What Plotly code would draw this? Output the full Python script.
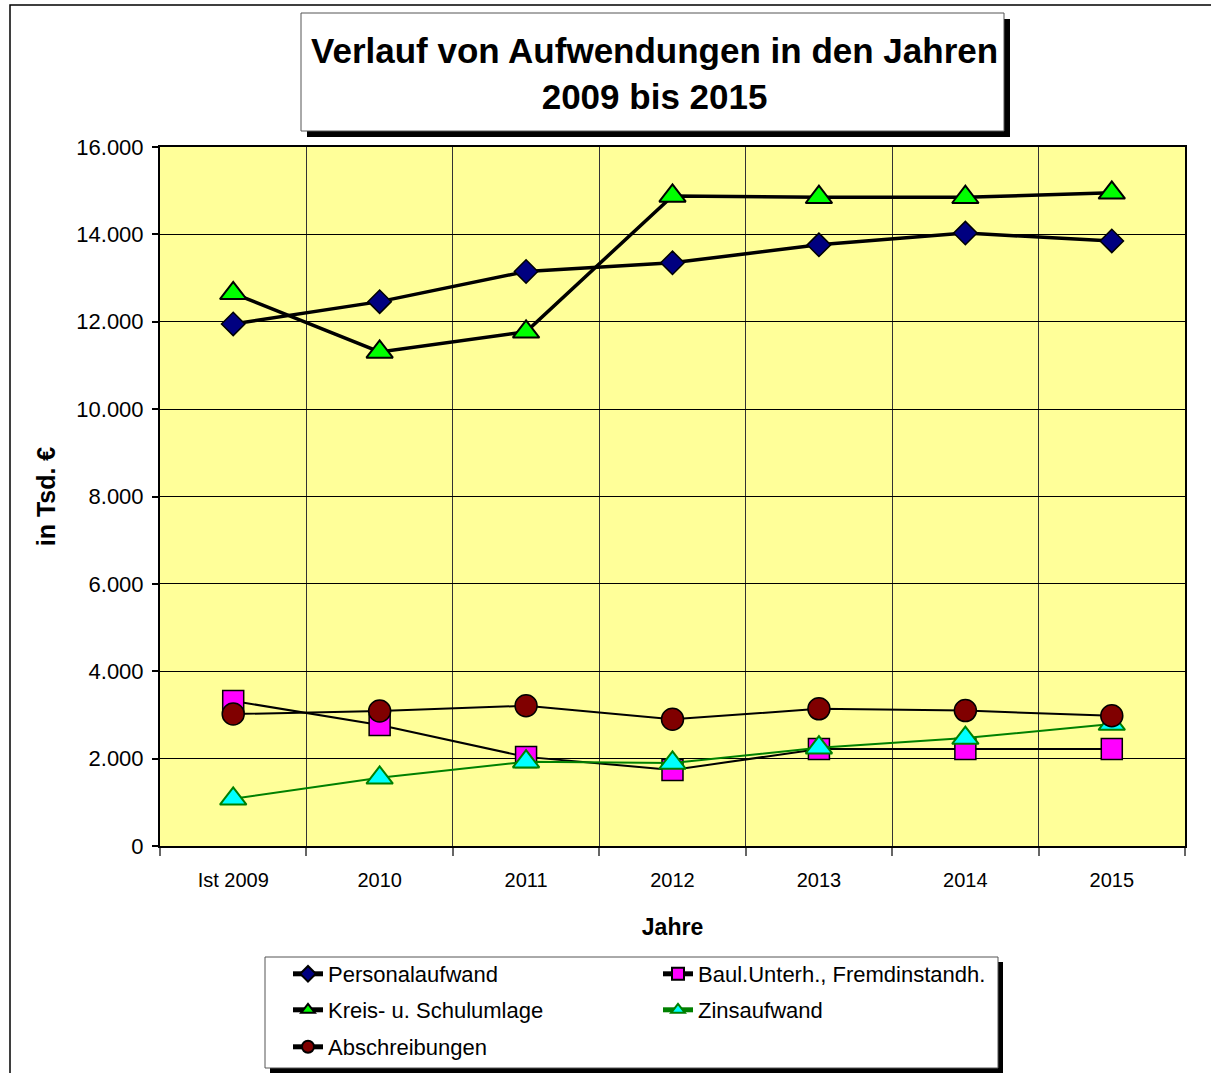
import plotly.graph_objects as go

# ---- data ----
years = ["Ist 2009", "2010", "2011", "2012", "2013", "2014", "2015"]
personalaufwand = [11950, 12460, 13150, 13350, 13760, 14030, 13850]
kreis_schulumlage = [12650, 11310, 11770, 14880, 14850, 14850, 14950]
baul_unterh = [3320, 2770, 2040, 1740, 2220, 2220, 2220]
zinsaufwand = [1080, 1560, 1930, 1900, 2250, 2470, 2790]
abschreibungen = [3020, 3090, 3210, 2900, 3140, 3100, 2980]
y_ticks = [0, 2000, 4000, 6000, 8000, 10000, 12000, 14000, 16000]

# ---- layout geometry (pixels) ----
FW, FH = 1211, 1073
L, R, T, B = 160, 1185, 147, 846
PW, PH = R - L, B - T


def px(x):
    return (x - L) / PW


def py(y):
    return (B - y) / PH


FONT = "Liberation Sans, Arial, sans-serif"

fig = go.Figure()

fig.add_trace(go.Scatter(
    x=years, y=personalaufwand, name="Personalaufwand", mode="lines+markers",
    line=dict(color="black", width=3.5),
    marker=dict(symbol="diamond", size=18, color="#000080", line=dict(color="black", width=1.5)),
    legend="legend"))
fig.add_trace(go.Scatter(
    x=years, y=kreis_schulumlage, name="Kreis- u. Schulumlage", mode="lines+markers",
    line=dict(color="black", width=3.5),
    marker=dict(symbol="triangle-up", size=23, color="#00FF00", line=dict(color="black", width=2)),
    legend="legend2"))
fig.add_trace(go.Scatter(
    x=years, y=baul_unterh, name="Baul.Unterh., Fremdinstandh.", mode="lines+markers",
    line=dict(color="black", width=2),
    marker=dict(symbol="square", size=21, color="#FF00FF", line=dict(color="black", width=1.5)),
    legend="legend"))
fig.add_trace(go.Scatter(
    x=years, y=zinsaufwand, name="Zinsaufwand", mode="lines+markers",
    line=dict(color="#008000", width=2),
    marker=dict(symbol="triangle-up", size=23, color="#00FFFF", line=dict(color="#008000", width=2)),
    legend="legend2"))
fig.add_trace(go.Scatter(
    x=years, y=abschreibungen, name="Abschreibungen", mode="lines+markers",
    line=dict(color="black", width=2),
    marker=dict(symbol="circle", size=22, color="#800000", line=dict(color="black", width=1.5)),
    legend="legend3"))

shapes = [
    # outer chart border
    dict(type="rect", xref="paper", yref="paper", x0=px(10), x1=px(1230), y0=py(1090), y1=py(5),
         line=dict(color="black", width=1.5), fillcolor="rgba(0,0,0,0)", layer="below"),
    # title shadow + box
    dict(type="rect", xref="paper", yref="paper", x0=px(307), x1=px(1010), y0=py(137), y1=py(19),
         line=dict(width=0), fillcolor="black", layer="above"),
    dict(type="rect", xref="paper", yref="paper", x0=px(301), x1=px(1004), y0=py(131), y1=py(13),
         line=dict(color="#555555", width=1), fillcolor="white", layer="above"),
    # legend shadow + box
    dict(type="rect", xref="paper", yref="paper", x0=px(270), x1=px(1003), y0=py(1073), y1=py(962),
         line=dict(width=0), fillcolor="black", layer="above"),
    dict(type="rect", xref="paper", yref="paper", x0=px(265), x1=px(998), y0=py(1068), y1=py(957),
         line=dict(color="#555555", width=1), fillcolor="white", layer="above"),
]

annotations = [
    dict(text="<b>Verlauf von Aufwendungen in den Jahren<br>2009 bis 2015</b>",
         xref="paper", yref="paper", x=px(654), y=py(74), xanchor="center", yanchor="middle",
         showarrow=False, font=dict(family=FONT, size=35, color="black")),
]


def leg(row_y):
    return dict(orientation="h", x=px(288), y=py(row_y), xanchor="left", yanchor="middle",
                entrywidth=325, entrywidthmode="pixels", bgcolor="rgba(0,0,0,0)",
                borderwidth=0, font=dict(family=FONT, size=22, color="black"),
                traceorder="normal", itemsizing="constant")


fig.update_layout(
    width=FW, height=FH,
    margin=dict(l=L, r=FW - R, t=T, b=FH - B, autoexpand=False),
    paper_bgcolor="white", plot_bgcolor="#FFFF99",
    separators=",.",
    font=dict(family=FONT, color="black"),
    shapes=shapes, annotations=annotations,
    showlegend=True,
    legend=leg(974), legend2=leg(1010), legend3=leg(1047),
)

fig.update_xaxes(
    type="category", tickson="boundaries", showgrid=True, gridcolor="#333333", gridwidth=1,
    ticks="outside", ticklen=8, tickcolor="#666666", tickwidth=1.5,
    showline=True, linecolor="black", linewidth=2, mirror=True,
    tickfont=dict(family=FONT, size=20), ticklabelstandoff=15,
    title=dict(text="<b>Jahre</b>", font=dict(family=FONT, size=23), standoff=29),
    range=[-0.5, 6.5], zeroline=False,
)
fig.update_yaxes(
    range=[0, 16000], tickvals=y_ticks, tickformat=",d",
    showgrid=True, gridcolor="black", gridwidth=1, zeroline=False,
    ticks="outside", ticklen=6, tickcolor="black", tickwidth=1.5,
    showline=True, linecolor="black", linewidth=2, mirror=True,
    tickfont=dict(family=FONT, size=22), ticklabelstandoff=4,
    title=dict(text="<b>in Tsd. €</b>", font=dict(family=FONT, size=25), standoff=14),
)

fig.write_html("out.html", config={"displayModeBar": False},
               post_script="document.body.style.margin='0px';")
